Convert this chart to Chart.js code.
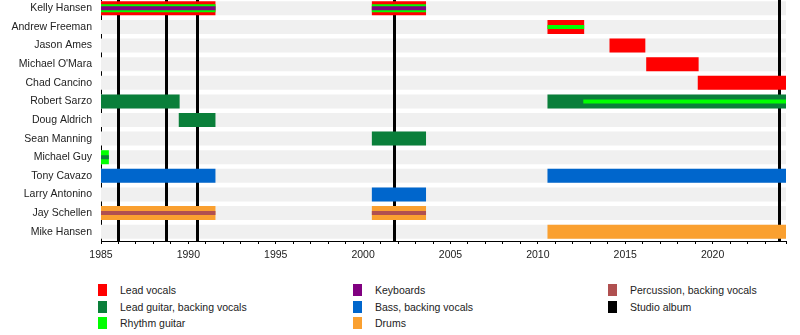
<!DOCTYPE html>
<html>
<head>
<meta charset="utf-8">
<script src="https://cdn.jsdelivr.net/npm/chart.js@4.4.1/dist/chart.umd.min.js"></script>
<style>
  body { margin: 0; background: #fff; }
  #wrap { position: relative; width: 800px; height: 335px; overflow: hidden; font-family: "Liberation Sans", Arial, sans-serif; }
  #chart { position: absolute; left: 0; top: -1px; }
  .key { position: absolute; font-size: 10.5px; color: #222; line-height: 12px; white-space: nowrap; }
  .key i { position: absolute; left: -22px; top: 0; width: 9px; height: 12px; }
</style>
</head>
<body>
<div id="wrap">
  <canvas id="chart" width="800" height="270"></canvas>
  <div id="legend"></div>
</div>
<script>
// band members, top to bottom
var members = ['Kelly Hansen', 'Andrew Freeman', 'Jason Ames', "Michael O'Mara", 'Chad Cancino',
  'Robert Sarzo', 'Doug Aldrich', 'Sean Manning', 'Michael Guy', 'Tony Cavazo',
  'Larry Antonino', 'Jay Schellen', 'Mike Hansen'];

var startYear = 1985;
var endYear = 2024.2;

// studio albums (vertical lines)
var albums = [1985.95, 1988.7, 1990.5, 2001.75, 2023.8];

// main role of each period: [member, from, to]
var leadVocals = [
  ['Kelly Hansen', 1985, 1991.55], ['Kelly Hansen', 2000.5, 2003.6],
  ['Andrew Freeman', 2010.55, 2012.65], ['Jason Ames', 2014.1, 2016.15],
  ["Michael O'Mara", 2016.2, 2019.2], ['Chad Cancino', 2019.15, 2024.2]
];
var leadGuitar = [
  ['Robert Sarzo', 1985, 1989.5], ['Robert Sarzo', 2010.55, 2024.2],
  ['Doug Aldrich', 1989.45, 1991.55], ['Sean Manning', 2000.5, 2003.6]
];
var rhythmGuitar = [['Michael Guy', 1985, 1985.45]];
var bass = [
  ['Tony Cavazo', 1985, 1991.55], ['Tony Cavazo', 2010.55, 2024.2],
  ['Larry Antonino', 2000.5, 2003.6]
];
var drums = [
  ['Jay Schellen', 1985, 1991.55], ['Jay Schellen', 2000.5, 2003.6],
  ['Mike Hansen', 2010.55, 2024.2]
];

// second roles, drawn as stripes inside the main bar
var rhythmGuitarAlso = [
  ['Kelly Hansen', 1985, 1991.55], ['Kelly Hansen', 2000.5, 2003.6],
  ['Andrew Freeman', 2010.55, 2012.65], ['Robert Sarzo', 2012.6, 2024.2]
];
var keyboardsAlso = [['Kelly Hansen', 1985, 1991.55], ['Kelly Hansen', 2000.5, 2003.6]];
var leadGuitarAlso = [['Michael Guy', 1985, 1985.45]];
var percussionAlso = [['Jay Schellen', 1985, 1991.55], ['Jay Schellen', 2000.5, 2003.6]];

var colors = {
  lead: '#ff0000', guitar: '#0a7f3a', rhythm: '#00ff00', keys: '#800080',
  bass: '#0066cc', drums: '#faa030', perc: '#b05050', album: '#000000', band: '#f0f0f0'
};

var legendItems = [
  ['Lead vocals', colors.lead], ['Lead guitar, backing vocals', colors.guitar], ['Rhythm guitar', colors.rhythm],
  ['Keyboards', colors.keys], ['Bass, backing vocals', colors.bass], ['Drums', colors.drums],
  ['Percussion, backing vocals', colors.perc], ['Studio album', colors.album]
];

function toPoints(list) {
  return list.map(function (p) { return { y: p[0], x: [p[1], p[2]] }; });
}

function layer(list, color, thick, order) {
  return {
    data: toPoints(list),
    backgroundColor: color,
    barThickness: thick,
    grouped: false,
    borderWidth: 0,
    inflateAmount: 0,
    order: order
  };
}

// kelly plays keys too, so his rhythm stripe is wider
var keyPlayers = keyboardsAlso.map(function (p) { return p[0]; });
var rhythmWide = rhythmGuitarAlso.filter(function (p) { return keyPlayers.indexOf(p[0]) >= 0; });
var rhythmThin = rhythmGuitarAlso.filter(function (p) { return keyPlayers.indexOf(p[0]) < 0; });

var datasets = [
  layer(members.map(function (m) { return [m, startYear, endYear]; }), colors.band, 14, 10),
  layer(leadVocals, colors.lead, 14, 5),
  layer(leadGuitar, colors.guitar, 14, 5),
  layer(rhythmGuitar, colors.rhythm, 14, 5),
  layer(bass, colors.bass, 14, 5),
  layer(drums, colors.drums, 14, 5),
  layer(rhythmWide, colors.rhythm, 8, 3),
  layer(keyboardsAlso, colors.keys, 4, 1),
  layer(rhythmThin, colors.rhythm, 4, 1),
  layer(leadGuitarAlso, colors.guitar, 4, 1),
  layer(percussionAlso, colors.perc, 4, 1)
];

// album lines go on top of the grey bands, under the member bars
var albumLines = {
  id: 'albumLines',
  afterDatasetDraw: function (chart, args) {
    if (args.index !== 0) return;
    var ctx = chart.ctx, a = chart.chartArea, xs = chart.scales.x;
    ctx.save();
    ctx.strokeStyle = colors.album;
    ctx.lineWidth = 3;
    albums.forEach(function (yr) {
      var px = Math.round(xs.getPixelForValue(yr)) + 0.5;
      ctx.beginPath();
      ctx.moveTo(px, a.top);
      ctx.lineTo(px, a.bottom);
      ctx.stroke();
    });
    ctx.restore();
  }
};

var font = { family: '"Liberation Sans", Arial, sans-serif', size: 10.5 };

function noPad(s) {
  s.paddingTop = 0; s.paddingBottom = 0; s.paddingLeft = 0; s.paddingRight = 0;
}

new Chart(document.getElementById('chart'), {
  type: 'bar',
  data: { labels: members, datasets: datasets },
  plugins: [albumLines],
  options: {
    responsive: false,
    animation: false,
    indexAxis: 'y',
    layout: { padding: { left: 0, right: 14, top: 0, bottom: 0 } },
    plugins: { legend: { display: false }, tooltip: { enabled: false } },
    scales: {
      x: {
        type: 'linear',
        min: startYear,
        max: endYear,
        afterFit: function (s) { s.height = 28; noPad(s); },
        border: { display: true, color: '#000', width: 1 },
        grid: { drawOnChartArea: false, drawTicks: true, tickLength: 3, color: '#000' },
        ticks: {
          stepSize: 1,
          autoSkip: false,
          maxRotation: 0,
          padding: 5,
          color: '#222',
          font: font,
          callback: function (v) { return v % 5 === 0 ? String(v) : ''; }
        }
      },
      y: {
        type: 'category',
        afterFit: function (s) { s.width = 101; noPad(s); },
        border: { display: true, color: '#000', width: 1 },
        grid: { drawOnChartArea: false, drawTicks: false },
        ticks: { padding: 9, color: '#222', font: font, autoSkip: false }
      }
    }
  }
});

// legend, three columns filled top to bottom
var legend = document.getElementById('legend');
var colX = [120, 375, 630];
var rowY = [284, 300.5, 317];
legendItems.forEach(function (item, i) {
  var d = document.createElement('div');
  d.className = 'key';
  d.style.left = colX[Math.floor(i / 3)] + 'px';
  d.style.top = rowY[i % 3] + 'px';
  d.innerHTML = '<i style="background:' + item[1] + '"></i>';
  d.appendChild(document.createTextNode(item[0]));
  legend.appendChild(d);
});
</script>
</body>
</html>
